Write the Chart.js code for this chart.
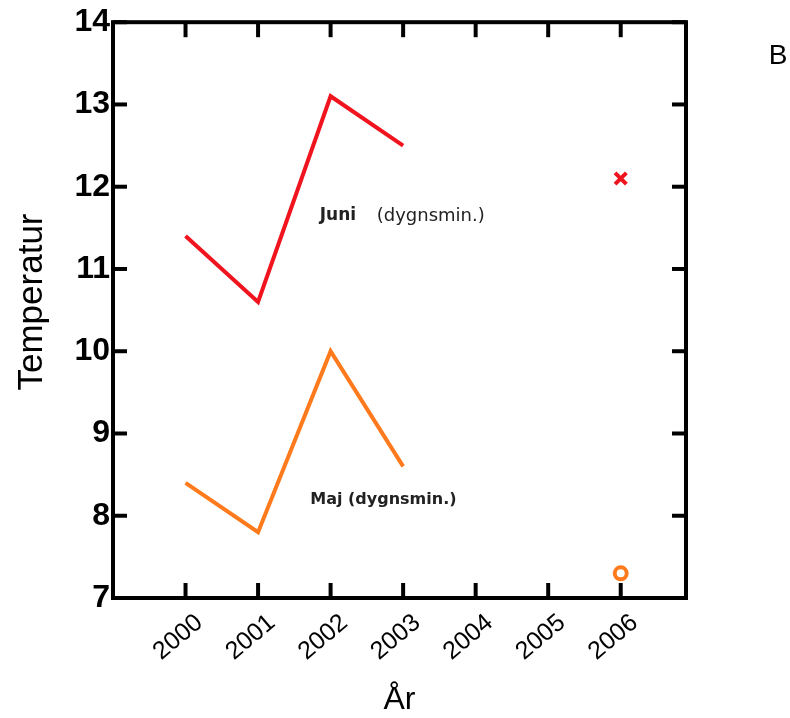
<!DOCTYPE html>
<html>
<head>
<meta charset="utf-8">
<script src="https://cdn.jsdelivr.net/npm/chart.js@4.4.1/dist/chart.umd.min.js"></script>
<style>
  html, body { margin: 0; padding: 0; background: #fff; }
</style>
</head>
<body>
<canvas id="chart" width="790" height="718"></canvas>
<script>
// data
const years = [2000, 2001, 2002, 2003];
const juniMin = [11.4, 10.6, 13.1, 12.5];
const majMin = [8.4, 7.8, 10.0, 8.6];
const lateYear = [2006];
const juniLate = [12.1];
const majLate = [7.3];
const xTickValues = [2000, 2001, 2002, 2003, 2004, 2005, 2006];
const yTickValues = [7, 8, 9, 10, 11, 12, 13, 14];
const noteJuni = ['Juni', '(dygnsmin.)'];
const noteMaj = ['Maj', '(dygnsmin.)'];

const red = '#f0141e';
const orange = '#ff7a1c';
const font = '"Liberation Sans", Arial, sans-serif';
const wideFont = '"DejaVu Sans", sans-serif';

function toPoints(xs, ys) {
    return xs.map((x, i) => ({ x: x, y: ys[i] }));
}

function line(ctx, x1, y1, x2, y2) {
    ctx.beginPath();
    ctx.moveTo(x1, y1);
    ctx.lineTo(x2, y2);
    ctx.stroke();
}

// frame with inward ticks on all four sides, notes and axis titles
const framePlugin = {
    id: 'frame',
    afterDatasetsDraw(chart) {
        const ctx = chart.ctx;
        const a = chart.chartArea;
        const x = chart.scales.x;
        const y = chart.scales.y;
        ctx.save();
        ctx.strokeStyle = '#000';
        ctx.lineWidth = 4;
        ctx.strokeRect(a.left, a.top, a.right - a.left, a.bottom - a.top);
        xTickValues.forEach(v => {
            const px = x.getPixelForValue(v);
            line(ctx, px, a.bottom, px, a.bottom - 15);
            line(ctx, px, a.top, px, a.top + 15);
        });
        yTickValues.forEach(v => {
            const py = y.getPixelForValue(v);
            line(ctx, a.left, py, a.left + 14, py);
            line(ctx, a.right, py, a.right - 14, py);
        });

        // notes next to the lines
        ctx.fillStyle = '#222';
        ctx.textBaseline = 'middle';
        ctx.textAlign = 'left';
        let px = x.getPixelForValue(2001.85);
        let py = y.getPixelForValue(11.65);
        ctx.font = 'bold 17px ' + wideFont;
        ctx.fillText(noteJuni[0], px, py);
        ctx.font = '18px ' + wideFont;
        ctx.fillText(noteJuni[1], px + 57, py + 1);
        px = x.getPixelForValue(2001.72);
        py = y.getPixelForValue(8.19);
        ctx.font = 'bold 16px ' + wideFont;
        ctx.fillText(noteMaj[0] + ' ' + noteMaj[1], px, py);

        // axis titles and panel letter
        ctx.fillStyle = '#000';
        ctx.textAlign = 'center';
        ctx.font = '32px ' + font;
        ctx.fillText('År', (a.left + a.right) / 2, 700);
        ctx.save();
        ctx.translate(32, 302);
        ctx.rotate(-Math.PI / 2);
        ctx.font = '35px ' + font;
        ctx.fillText('Temperatur', 0, 0);
        ctx.restore();
        ctx.font = '28px ' + font;
        ctx.fillText('B', 778, 56);
        ctx.restore();
    }
};

new Chart(document.getElementById('chart'), {
    type: 'line',
    data: {
        datasets: [
            {
                label: 'Juni (dygnsmin.)',
                data: toPoints(years, juniMin),
                borderColor: red,
                borderWidth: 4,
                pointRadius: 0,
                tension: 0
            },
            {
                label: 'Maj (dygnsmin.)',
                data: toPoints(years, majMin),
                borderColor: orange,
                borderWidth: 4,
                pointRadius: 0,
                tension: 0
            },
            {
                label: 'Juni 2006',
                data: toPoints(lateYear, juniLate),
                showLine: false,
                pointStyle: 'crossRot',
                pointRadius: 8,
                pointBorderWidth: 4,
                pointBorderColor: red
            },
            {
                label: 'Maj 2006',
                data: toPoints(lateYear, majLate),
                showLine: false,
                pointStyle: 'circle',
                pointRadius: 6,
                pointBorderWidth: 4,
                pointBorderColor: orange,
                pointBackgroundColor: '#fff'
            }
        ]
    },
    options: {
        responsive: false,
        animation: false,
        layout: { padding: { top: 22, right: 104, left: 0, bottom: 0 } },
        plugins: {
            legend: { display: false },
            tooltip: { enabled: false }
        },
        scales: {
            x: {
                type: 'linear',
                min: 1999,
                max: 2006.9,
                afterBuildTicks: s => { s.ticks = xTickValues.map(v => ({ value: v })); },
                afterFit: s => { s.height = 120; },
                grid: { display: false, drawTicks: false },
                border: { display: false },
                ticks: {
                    color: '#000',
                    font: { family: font, size: 25 },
                    minRotation: 40,
                    maxRotation: 40,
                    padding: 10,
                    labelOffset: 14,
                    callback: v => String(v)
                }
            },
            y: {
                min: 7,
                max: 14,
                afterBuildTicks: s => { s.ticks = yTickValues.map(v => ({ value: v })); },
                afterFit: s => { s.width = 113; },
                grid: { display: false, drawTicks: false },
                border: { display: false },
                ticks: {
                    color: '#000',
                    font: { family: font, size: 32, weight: 'bold' },
                    padding: 3
                }
            }
        }
    },
    plugins: [framePlugin]
});
</script>
</body>
</html>
